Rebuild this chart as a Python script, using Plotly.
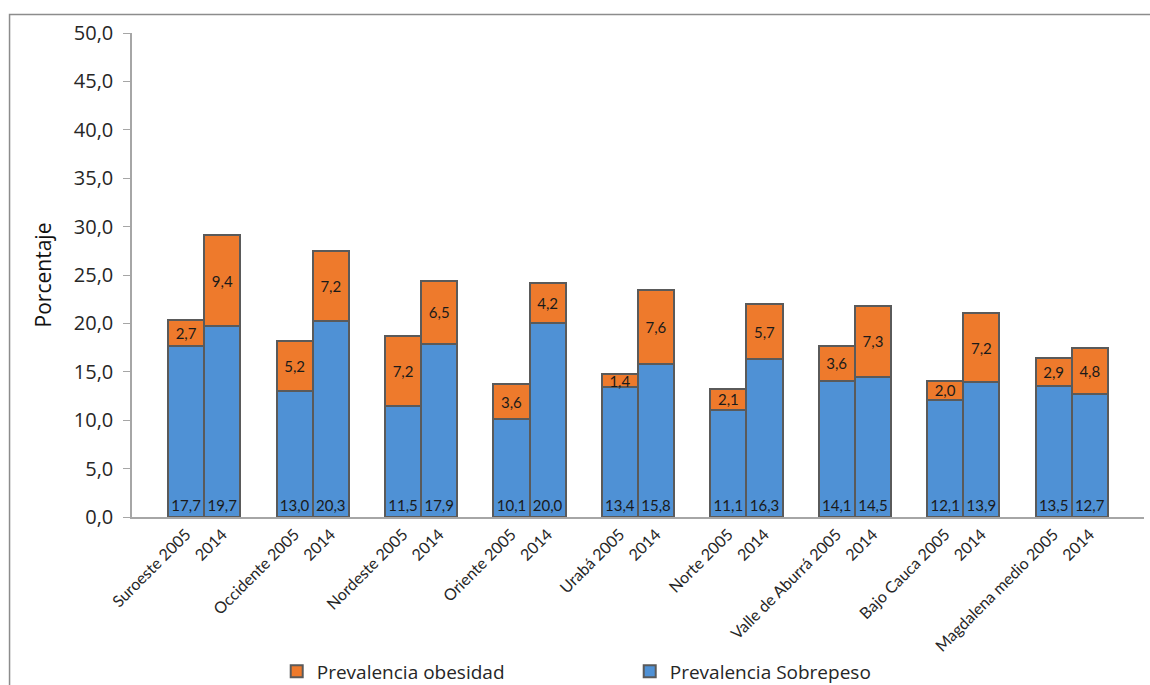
import plotly.graph_objects as go

# Subregions, two survey years each
regiones = ["Suroeste", "Occidente", "Nordeste", "Oriente", "Urabá",
            "Norte", "Valle de Aburrá", "Bajo Cauca", "Magdalena medio"]
anios = ["2005", "2014"]

sobrepeso = [17.7, 19.7, 13.0, 20.3, 11.5, 17.9, 10.1, 20.0, 13.4,
             15.8, 11.1, 16.3, 14.1, 14.5, 12.1, 13.9, 13.5, 12.7]
obesidad = [2.7, 9.4, 5.2, 7.2, 7.2, 6.5, 3.6, 4.2, 1.4,
            7.6, 2.1, 5.7, 3.6, 7.3, 2.0, 7.2, 2.9, 4.8]

y_ticks = [0, 5, 10, 15, 20, 25, 30, 35, 40, 45, 50]

# Tick labels: "<region> 2005" then "2014"
etiquetas = []
for r in regiones:
    etiquetas.append(f"{r} {anios[0]}")
    etiquetas.append(anios[1])

# Bars of a pair sit side by side, one empty slot between pairs
posiciones = [3 * (i // 2) + (i % 2) for i in range(len(etiquetas))]

AZUL = "#4f91d5"
NARANJA = "#ee7a2c"
BORDE = "#5a5a5a"
TXT = "#1a1a1a"

fig = go.Figure()
fig.add_trace(go.Bar(
    x=posiciones, y=sobrepeso, name="Prevalencia Sobrepeso",
    marker=dict(color=AZUL, line=dict(color=BORDE, width=2)),
    width=1.0,
    text=[f"{v:.1f}".replace(".", ",") for v in sobrepeso],
    textposition="inside", insidetextanchor="start",
    textfont=dict(family="Lato", size=15, color=TXT),
    hoverinfo="skip",
))
fig.add_trace(go.Bar(
    x=posiciones, y=obesidad, name="Prevalencia obesidad",
    marker=dict(color=NARANJA, line=dict(color=BORDE, width=2)),
    width=1.0,
    text=[f"{v:.1f}".replace(".", ",") for v in obesidad],
    textposition="inside", insidetextanchor="middle",
    textfont=dict(family="Lato", size=15, color=TXT),
    hoverinfo="skip",
))

fig.update_layout(
    width=1150, height=685,
    barmode="stack",
    separators=",.",
    plot_bgcolor="white", paper_bgcolor="white",
    margin=dict(l=132, r=6, t=33, b=168, autoexpand=False),
    uniformtext=dict(minsize=15, mode="show"),
    font=dict(family="Open Sans", color="#262626"),
    showlegend=True,
    legend=dict(
        orientation="h", x=0.143, xanchor="left",
        yref="container", y=0.02, yanchor="middle",
        traceorder="reversed", entrywidth=308, entrywidthmode="pixels",
        font=dict(family="Open Sans", size=19, color="#262626"),
    ),
    xaxis=dict(
        range=[-1.5, 26.5], automargin=False,
        tickmode="array", tickvals=posiciones, ticktext=etiquetas,
        tickangle=-45, ticks="", showgrid=False, zeroline=False,
        showline=True, linecolor="#a6a6a6", linewidth=1.5,
        tickfont=dict(family="Lato", size=16, color="#262626"),
    ),
    yaxis=dict(
        range=[0, 50], automargin=False, tickmode="array", tickvals=y_ticks,
        tickformat=".1f", ticks="outside", ticklen=7, tickcolor="#a6a6a6",
        ticklabelstandoff=6,
        showgrid=False, zeroline=False,
        showline=True, linecolor="#a6a6a6", linewidth=1.5,
        tickfont=dict(family="Open Sans", size=20, color="#262626"),
        title=dict(text="Porcentaje", standoff=16,
                   font=dict(family="Open Sans", size=21, color="#111111")),
    ),
    shapes=[dict(
        type="path", xref="paper", yref="paper",
        path="M -0.121,-0.6 L -0.121,1.0382 L 1.1,1.0382",
        line=dict(color="#8c8c8c", width=1.5),
    )],
)

fig.write_html("out.html")
